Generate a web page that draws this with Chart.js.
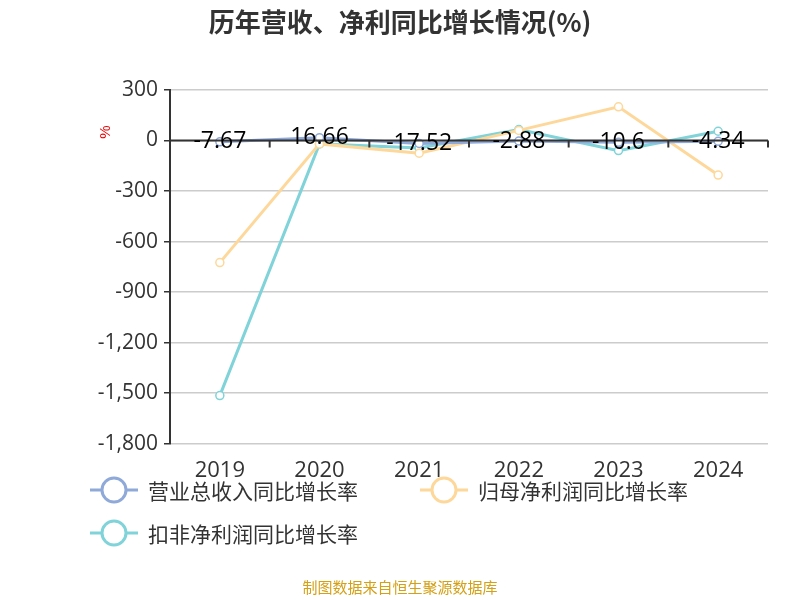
<!DOCTYPE html>
<html><head><meta charset="utf-8">
<script src="https://cdn.jsdelivr.net/npm/chart.js@4/dist/chart.umd.min.js"></script>
<style>
body{margin:0;background:#fff;font-family:"Noto Sans CJK SC","Noto Sans",sans-serif;}
#wrap{position:relative;width:800px;height:600px;}
#title{position:absolute;top:2px;left:0;width:800px;text-align:center;font-size:26px;font-weight:bold;color:#333;}
.lg{position:absolute;font-size:21px;color:#333;display:flex;align-items:center;}
.lg svg{margin-right:10px;}
#src{position:absolute;top:576px;width:800px;text-align:center;font-size:15px;color:#d4a017;}
</style></head><body>
<div id="wrap">
<canvas id="c" width="800" height="600"></canvas>
<div id="title">历年营收、净利同比增长情况(%)</div>
<div id="legend"></div>
<div id="src">制图数据来自恒生聚源数据库</div>
</div>
<script>
const categories=["2019","2020","2021","2022","2023","2024"];
const revenueGrowth=[-7.67,16.66,-17.52,-2.88,-10.6,-4.34];
const netProfitGrowth=[-725,-20,-75,60,200,-205];
const deductedProfitGrowth=[-1515,-20,-45,65,-60,55];
const yTicks=[300,0,-300,-600,-900,-1200,-1500,-1800];
const names=["营业总收入同比增长率","归母净利润同比增长率","扣非净利润同比增长率"];
const colors=["#8fa9d8","#fdd89a","#80d3d8"];
const FONT='"Open Sans","Noto Sans",sans-serif';

const lgPos=[[90,474],[420,474],[90,517]];
const lg=document.getElementById('legend');
names.forEach((n,i)=>{
  const d=document.createElement('div');d.className='lg';
  d.style.left=lgPos[i][0]+'px';d.style.top=lgPos[i][1]+'px';
  d.innerHTML=`<svg width="48" height="32"><line x1="0" y1="16" x2="48" y2="16" stroke="${colors[i]}" stroke-width="3"/><circle cx="24" cy="16" r="12" fill="#fff" stroke="${colors[i]}" stroke-width="3"/></svg>${n}`;
  lg.appendChild(d);
});

const zeroAxis={id:'zeroAxis',afterDatasetsDraw(ch){
  const c=ch.ctx,y=ch.scales.y,y0=y.getPixelForValue(0);
  c.save();c.strokeStyle='#333';c.lineWidth=2;
  c.beginPath();c.moveTo(ch.chartArea.left,y0);c.lineTo(ch.chartArea.right,y0);c.stroke();
  const n=categories.length,w=(ch.chartArea.right-ch.chartArea.left)/n;
  for(let i=0;i<=n;i++){const px=ch.chartArea.left+i*w;c.beginPath();c.moveTo(px,y0);c.lineTo(px,y0+7);c.stroke();}
  c.fillStyle='#000';c.font='23px '+FONT;c.textAlign='center';c.textBaseline='middle';
  const m=ch.getDatasetMeta(2);
  revenueGrowth.forEach((v,i)=>{c.fillText(String(v),m.data[i].x,m.data[i].y);});
  c.translate(106,132);c.rotate(-Math.PI/2);c.fillStyle='#e00';c.font='15px sans-serif';c.fillText('%',0,0);
  c.restore();
}};

new Chart(document.getElementById('c'),{
  type:'line',
  data:{labels:categories,datasets:[
    {label:names[1],data:netProfitGrowth,borderColor:colors[1],backgroundColor:'#fff',borderWidth:3,pointRadius:4,pointBorderWidth:1.5},
    {label:names[2],data:deductedProfitGrowth,borderColor:colors[2],backgroundColor:'#fff',borderWidth:3,pointRadius:4,pointBorderWidth:1.5},
    {label:names[0],data:revenueGrowth,borderColor:colors[0],backgroundColor:'#fff',borderWidth:3,pointRadius:4,pointBorderWidth:1.5,order:-1}
  ]},
  options:{responsive:false,animation:false,
    layout:{padding:{top:90,right:32,bottom:110,left:0}},
    plugins:{legend:{display:false},tooltip:{enabled:false}},
    scales:{
      x:{offset:true,grid:{display:false},border:{display:false},ticks:{color:'#333',font:{size:22,family:FONT},padding:6}},
      y:{min:-1800,max:300,afterBuildTicks(s){s.ticks=yTicks.map(v=>({value:v}));},
         afterFit(s){s.width=170;},
         grid:{color:'#ccc',lineWidth:1.5,drawTicks:true,tickLength:6,tickColor:'#333'},
         border:{display:true,color:'#333',width:2},
         ticks:{color:'#333',font:{size:21,family:FONT},padding:6,callback:v=>v.toLocaleString('en-US')}}
    }
  },
  plugins:[zeroAxis]
});
</script>
</body></html>
